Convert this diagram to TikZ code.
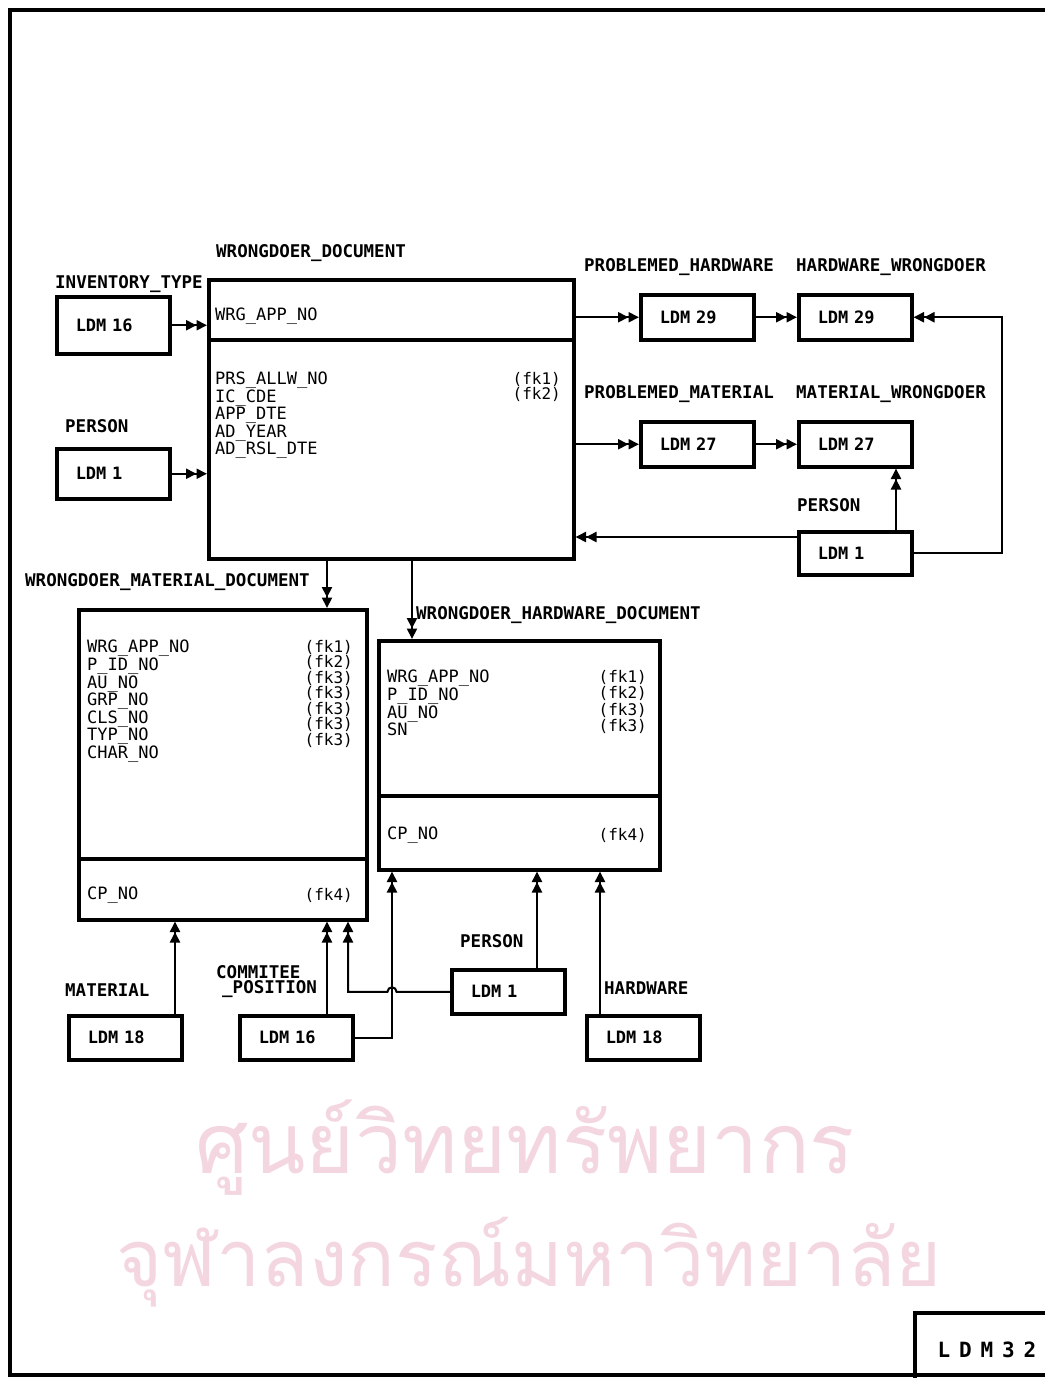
\documentclass[tikz,border=0pt]{standalone}
\usepackage{fontspec}
\newfontfamily\mono{DejaVu Sans Mono}
\newfontfamily\thaifont[Script=Thai]{Loma}
\usetikzlibrary{arrows.meta}
\definecolor{wmark}{RGB}{244,214,225}
\tikzset{
  ent/.style={draw, line width=3.5pt, anchor=north west, inner sep=0pt},
  ldmbox/.style={draw, line width=3.5pt, anchor=north west, inner xsep=19pt, inner ysep=0pt,
    text width=75pt, align=left, minimum height=#1, font=\mono\bfseries\fontsize{17}{17}\selectfont},
  lbl/.style={anchor=west, inner sep=0pt, font=\mono\bfseries\fontsize{17.5}{17.5}\selectfont},
  attr/.style={anchor=north west, inner sep=0pt, align=left, font=\mono\fontsize{17}{15.5}\selectfont},
  fk/.style={anchor=north east, inner sep=0pt, align=right, font=\mono\fontsize{16}{15.5}\selectfont},
  divline/.style={line width=3.5pt},
  con/.style={line width=2pt, -{Triangle[length=10.5pt,width=10pt]Triangle[length=10.5pt,width=10pt]}},
  watermark/.style={text=wmark, inner sep=0pt, font=\thaifont\fontsize{84}{84}\selectfont},
}
\begin{document}
\begin{tikzpicture}[x=1pt,y=-1pt]
\useasboundingbox (0,0) rectangle (1044,1378);
\fill[white] (0,0) rectangle (1044,1378);

% watermark
\node[watermark] (wm1) at (525,1148) {ศูนย์วิทยทรัพยากร};
\node[watermark, font=\thaifont\fontsize{79}{79}\selectfont] (wm2) at (529,1262) {จุฬาลงกรณ์มหาวิทยาลัย};

% frame
\draw[line width=4pt] (1060,10) -- (10,10) -- (10,1375) -- (1060,1375);
\draw[line width=4pt] (915,1390) -- (915,1313) -- (1060,1313);
\node[inner sep=0pt, font=\mono\bfseries\fontsize{21}{21}\selectfont] (ldm32) at (987,1350)
  {\makebox[21.5pt]{L}\makebox[21.5pt]{D}\makebox[21.5pt]{M}\makebox[21.5pt]{3}\makebox[21.5pt]{2}};

% ---------- WRONGDOER_DOCUMENT ----------
\node[ent, minimum width=365pt, minimum height=279pt] (wd) at (207,278) {};
\draw[divline] (207,340) -- (572,340);
\node[lbl] (wdlbl) at (216,253) {WRONGDOER\_DOCUMENT};
\node[attr, anchor=west] (wdpk) at (215,316) {WRG\_APP\_NO};
\node[attr] (wdatt) at (215,372) {PRS\_ALLW\_NO\\IC\_CDE\\APP\_DTE\\AD\_YEAR\\AD\_RSL\_DTE};
\node[fk] (wdfk) at (561,372) {(fk1)\\(fk2)};

% left inputs
\node[lbl] (invlbl) at (55,284) {INVENTORY\_TYPE};
\node[ldmbox=57pt] (l16a) at (55,295) {LDM 16};
\node[lbl] (perlblA) at (65,426) {PERSON};
\node[ldmbox=50pt] (l1a) at (55,447) {LDM 1};

% right side
\node[lbl] (phlbl) at (584,267) {PROBLEMED\_HARDWARE};
\node[lbl] (hwlbl) at (796,267) {HARDWARE\_WRONGDOER};
\node[ldmbox=45pt] (l29a) at (639,293) {LDM 29};
\node[ldmbox=45pt] (l29b) at (797,293) {LDM 29};
\node[lbl] (pmlbl) at (584,394) {PROBLEMED\_MATERIAL};
\node[lbl] (mwlbl) at (796,394) {MATERIAL\_WRONGDOER};
\node[ldmbox=45pt] (l27a) at (639,420) {LDM 27};
\node[ldmbox=45pt] (l27b) at (797,420) {LDM 27};
\node[lbl] (perlblB) at (797,505) {PERSON};
\node[ldmbox=43pt] (l1b) at (797,530) {LDM 1};

% ---------- WRONGDOER_MATERIAL_DOCUMENT ----------
\node[lbl] (wmlbl) at (25,582) {WRONGDOER\_MATERIAL\_DOCUMENT};
\node[ent, minimum width=288pt, minimum height=310pt] (wmd) at (77,608) {};
\draw[divline] (77,859) -- (365,859);
\node[attr] (wmatt) at (87,640) {WRG\_APP\_NO\\P\_ID\_NO\\AU\_NO\\GRP\_NO\\CLS\_NO\\TYP\_NO\\CHAR\_NO};
\node[fk] (wmfk) at (353,640) {(fk1)\\(fk2)\\(fk3)\\(fk3)\\(fk3)\\(fk3)\\(fk3)};
\node[attr, anchor=west] (wmcp) at (87,895) {CP\_NO};
\node[fk, anchor=east] (wmfk4) at (353,895) {(fk4)};

% ---------- WRONGDOER_HARDWARE_DOCUMENT ----------
\node[lbl] (hdlbl) at (416,615) {WRONGDOER\_HARDWARE\_DOCUMENT};
\node[ent, minimum width=281pt, minimum height=229pt] (hwd) at (377,639) {};
\draw[divline] (377,796) -- (658,796);
\node[attr, font=\mono\fontsize{17}{16.5}\selectfont] (hwatt) at (387,670) {WRG\_APP\_NO\\P\_ID\_NO\\AU\_NO\\SN};
\node[fk, font=\mono\fontsize{16}{16.5}\selectfont] (hwfk) at (647,670) {(fk1)\\(fk2)\\(fk3)\\(fk3)};
\node[attr, anchor=west] (hwcp) at (387,835) {CP\_NO};
\node[fk, anchor=east] (hwfk4) at (647,835) {(fk4)};

% bottom inputs
\node[lbl] (matlbl) at (65,990) {MATERIAL};
\node[ldmbox=44pt] (l18a) at (67,1014) {LDM 18};
\node[lbl] (comlbl) at (216,972) {COMMITEE};
\node[lbl] (poslbl) at (222,989) {\_POSITION};
\node[ldmbox=44pt] (l16b) at (238,1014) {LDM 16};
\node[lbl] (perlblC) at (460,941) {PERSON};
\node[ldmbox=44pt] (l1c) at (450,968) {LDM 1};
\node[lbl] (hwlblB) at (604,988) {HARDWARE};
\node[ldmbox=44pt] (l18b) at (585,1014) {LDM 18};

% helper x positions
\coordinate (xa) at (327,0);
\coordinate (xb) at (412,0);
\coordinate (xc) at (175,0);
\coordinate (xd) at (392,0);
\coordinate (xe) at (348,0);
\coordinate (xf) at (537,0);
\coordinate (xg) at (600,0);
\coordinate (xh) at (896,0);
\coordinate (xloop) at (1002,0);
\coordinate (yp) at (0,537);

% ---------- connectors ----------
\draw[con] (l16a.east) -- (l16a.east -| wd.west);
\draw[con] (l1a.east) -- (l1a.east -| wd.west);
\draw[con] (wd.east |- l29a.west) -- (l29a.west);
\draw[con] (l29a.east) -- (l29b.west);
\draw[con] (wd.east |- l27a.west) -- (l27a.west);
\draw[con] (l27a.east) -- (l27b.west);
\draw[con] (xh |- l1b.north) -- (xh |- l27b.south);
\draw[con] (l1b.west |- yp) -- (wd.east |- yp);
\draw[con] (l1b.east) -- (l1b.east -| xloop) -- (xloop |- l29b.east) -- (l29b.east);
\draw[con] (xa |- wd.south) -- (xa |- wmd.north);
\draw[con] (xb |- wd.south) -- (xb |- hwd.north);
\draw[con] (xc |- l18a.north) -- (xc |- wmd.south);
\draw[con] (xa |- l16b.north) -- (xa |- wmd.south);
\draw[con] (l16b.east) -- (l16b.east -| xd) -- (xd |- hwd.south);
\draw[con] (l1c.west) -- ([xshift=4.5pt]l1c.west -| xd) arc[start angle=0, end angle=180, radius=4.5pt]
  -- (l1c.west -| xe) -- (xe |- wmd.south);
\draw[con] (xf |- l1c.north) -- (xf |- hwd.south);
\draw[con] (xg |- l18b.north) -- (xg |- hwd.south);
\end{tikzpicture}
\end{document}
